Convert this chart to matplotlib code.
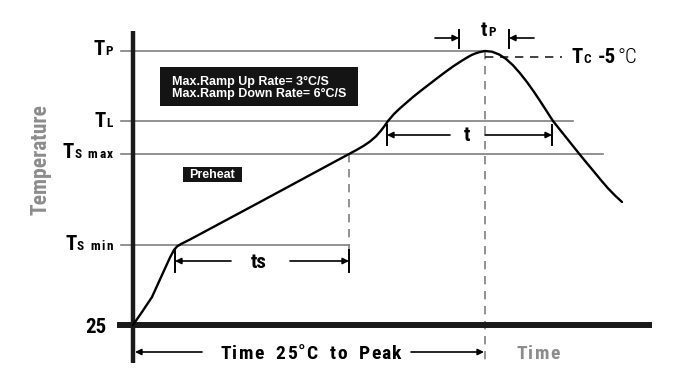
import matplotlib
matplotlib.use('Agg')
import matplotlib.pyplot as plt
from matplotlib import font_manager
from matplotlib.font_manager import FontProperties
from matplotlib.patches import Rectangle

# ---- pick a condensed bold font if one is installed ----
def _has_bold(name):
    for f in font_manager.fontManager.ttflist:
        if f.name != name:
            continue
        w = f.weight
        if isinstance(w, str):
            w = font_manager.weight_dict.get(w, 400)
        if w >= 600 and f.style == 'normal':
            return True
    return False

COND = 'DejaVu Sans'
for cand in ['Roboto Condensed', 'PT Sans Narrow', 'Archivo Narrow', 'Liberation Sans Narrow',
             'Encode Sans Condensed', 'Barlow Condensed', 'Fira Sans Condensed']:
    if _has_bold(cand):
        COND = cand
        break
CONDF = [COND, 'DejaVu Sans']
BOXF = ['Liberation Sans', 'DejaVu Sans']
plt.rcParams['font.family'] = CONDF

# ---------------- data (diagram units: time from origin, temperature above the 25 level) ---------
profile_time = [0, 9, 19, 29, 37, 41, 44, 48, 57, 127, 216, 224, 231, 237, 243, 248, 252, 255,
                261, 267, 274, 280, 287, 294, 301, 307, 314, 320, 325, 330, 335, 339, 343, 347,
                352, 359, 366, 373, 380, 387, 394, 401, 408, 414, 420, 427, 434, 441, 447, 454,
                461, 468, 475, 482, 489]
profile_temp = [0, 13, 28, 50, 67.5, 75, 78.5, 81, 85.5, 123, 171, 175.3, 179.4, 183.5, 188.7,
                194.4, 199.7, 204, 211, 216.7, 222.8, 228, 233.6, 239, 244.4, 249, 254.2, 258.5,
                261.8, 265, 268, 270.2, 271.8, 273, 274, 273.3, 270.6, 266.1, 259.7, 251.8,
                242.9, 233.1, 222.6, 213.3, 204, 195.2, 186.5, 177.7, 170.2, 161.7, 153.3, 144.8,
                136.7, 129.5, 123]

level_big = ['T', 'T', 'T', 'T']
level_small = ['P', 'L', 'S max', 'S min']
level_temps = [274, 204, 171, 80]
level_line_end = [352, 440, 470, 216]

t_smin, t_smax, t_L1, t_peak, t_L2 = 42, 216, 254, 352, 419
tc_temp = 268

box_lines = ["Max.Ramp Up Rate= 3°C/S", "Max.Ramp Down Rate= 6°C/S"]

W, H = 695, 378
X0, Y0 = 133, 325   # pixel position of the origin


def P(x, y):
    """pixel position -> diagram units (used only to place text and boxes)"""
    return x - X0, Y0 - y


fig = plt.figure(figsize=(W / 100, H / 100), dpi=100)
ax = fig.add_axes([0, 0, 1, 1])
ax.set_xlim(-X0, W - X0)
ax.set_ylim(Y0 - H, Y0)
ax.axis('off')

GRAY = '#7f7f7f'

# reference level lines
for temp, xend in zip(level_temps, level_line_end):
    ax.plot([-12, xend], [temp, temp], color=GRAY, lw=1.2, zorder=1)

# dashed guides
ax.plot([t_peak, t_peak], [level_temps[0], -36], color=GRAY, lw=1.2, dashes=(5, 4), zorder=1)
ax.plot([t_smax, t_smax], [level_temps[2], 75], color=GRAY, lw=1.2, dashes=(5, 4), zorder=1)
ax.plot([t_peak, 429], [tc_temp, tc_temp], color='#222222', lw=1.2, dashes=(5, 4), zorder=1)

# axes
ax.plot([0, 0], [294, -38], color='#1a1a1a', lw=3.2, solid_capstyle='butt', zorder=3)
ax.plot([-16, 519], [0, 0], color='#1a1a1a', lw=4.3, solid_capstyle='butt', zorder=3)

# profile curve
ax.plot(profile_time, profile_temp, color='black', lw=1.7, zorder=4,
        solid_joinstyle='round', solid_capstyle='round')

ap = dict(arrowstyle='-|>', color='black', lw=1.2, mutation_scale=9, shrinkA=0, shrinkB=0)


def arrow(x_from, x_to, y):
    ax.annotate('', xy=(x_to, y), xytext=(x_from, y), arrowprops=ap)


def bar(x, y1, y2):
    ax.plot([x, x], [y1, y2], color='black', lw=1.4)


# tp arrows
arrow(302, 326, 287); bar(326, 295, 277)
arrow(401, 376, 287); bar(376, 295, 277)
# t arrows
arrow(317, t_L1, 190); bar(t_L1, 200, 180)
arrow(352, t_L2, 190); bar(t_L2, 200, 180)
# ts arrows
arrow(98, t_smin, 64); bar(t_smin, 75, 53)
arrow(157, t_smax, 64); bar(t_smax, 75, 53)
# time to peak arrows
arrow(69, 2, -27)
arrow(278, t_peak - 1, -27)

# ---------------- text ----------------
fig.canvas.draw()
r = fig.canvas.get_renderer()
inv = ax.transData.inverted()
BIG = 15
SMALL = 9.5


def _w(s, fp):
    return r.get_text_width_height_descent(s, fp, ismath=False)[0]


def tracked(xp, yp, s, track, ha='left', fontsize=10, fontweight='normal', family=None, **kw):
    """draw s with extra spacing (track px) between characters; returns its extent (px)"""
    fam = family or CONDF
    fp = FontProperties(family=fam, size=fontsize, weight=fontweight)
    bar_w = _w('|', fp)

    def adv(sub):
        return _w(sub + '|', fp) - bar_w if sub else 0.0

    total = _w(s, fp) + track * (len(s) - 1)
    if ha == 'center':
        x0 = xp - total / 2
    elif ha == 'right':
        x0 = xp - total
    else:
        x0 = xp
    for i, ch in enumerate(s):
        if ch == ' ':
            continue
        ax.text(*P(x0 + adv(s[:i]) + i * track, yp), ch, ha='left', va='baseline',
                fontsize=fontsize, fontweight=fontweight, family=fam, **kw)
    return x0, x0 + total


label_baselines = [55, 127, 158, 250]
for big, small, yb in zip(level_big, level_small, label_baselines):
    x0, _ = tracked(113, yb, small, 1.6, ha='right', fontsize=SMALL, fontweight='bold')
    ax.text(*P(x0 - 0.5, yb), big, fontsize=BIG, fontweight='bold', ha='right', va='baseline')

ax.text(*P(107, 333), '25', fontsize=BIG, fontweight='bold', ha='right', va='baseline')

# tP
ax.text(*P(488, 36), 'P', fontsize=SMALL, fontweight='bold', ha='left', va='baseline')
ax.text(*P(487, 36), 't', fontsize=BIG, fontweight='bold', ha='right', va='baseline')
# t, ts
ax.text(*P(467, 141), 't', fontsize=BIG, fontweight='bold', ha='center', va='baseline')
ax.text(*P(259, 268), 'ts', fontsize=BIG, fontweight='bold', ha='center', va='baseline')

# Tc -5°C
yb = P(0, 63)[1]
t1 = ax.text(*P(572, 63), 'T', fontsize=BIG, fontweight='bold', ha='left', va='baseline')
bb = t1.get_window_extent(r)
xd = inv.transform((bb.x1, bb.y0))[0]
t2 = ax.text(xd + 0.5, yb, 'C', fontsize=SMALL, fontweight='bold', ha='left', va='baseline')
bb = t2.get_window_extent(r)
xd = inv.transform((bb.x1, bb.y0))[0]
t3 = ax.text(xd + 6, yb, '-5', fontsize=BIG, fontweight='bold', ha='left', va='baseline')
bb = t3.get_window_extent(r)
xd = inv.transform((bb.x1, bb.y0))[0]
ax.text(xd + 2, yb, '°C', fontsize=BIG, fontweight='light', ha='left', va='baseline')

# bottom labels
tracked(311, 359, 'Time  25°C  to  Peak', 1.1, ha='center', fontsize=14, fontweight='bold')
tracked(538, 359, 'Time', 1.4, ha='center', fontsize=14, fontweight='bold', color='#8c8c8c')

# Temperature
ax.text(*P(40, 160), 'Temperature', fontsize=15.5, fontweight='bold', color='#8c8c8c',
        rotation=90, ha='center', va='center')

# black label boxes
bx, by = P(160, 106)
ax.add_patch(Rectangle((bx, by), 198, 39, facecolor='#141414', edgecolor='none', zorder=5))
ax.text(*P(172, 85), box_lines[0], fontsize=9, fontweight='bold', color='white', ha='left',
        va='baseline', family=BOXF, zorder=6)
ax.text(*P(172, 97.5), box_lines[1], fontsize=9, fontweight='bold', color='white', ha='left',
        va='baseline', family=BOXF, zorder=6)

bx, by = P(183, 182)
ax.add_patch(Rectangle((bx, by), 59, 15, facecolor='#141414', edgecolor='none', zorder=5))
ax.text(*P(212.5, 178.5), 'Preheat', fontsize=9, fontweight='bold', color='white', ha='center',
        va='baseline', family=BOXF, zorder=6)

fig.savefig('out.png', dpi=100)
